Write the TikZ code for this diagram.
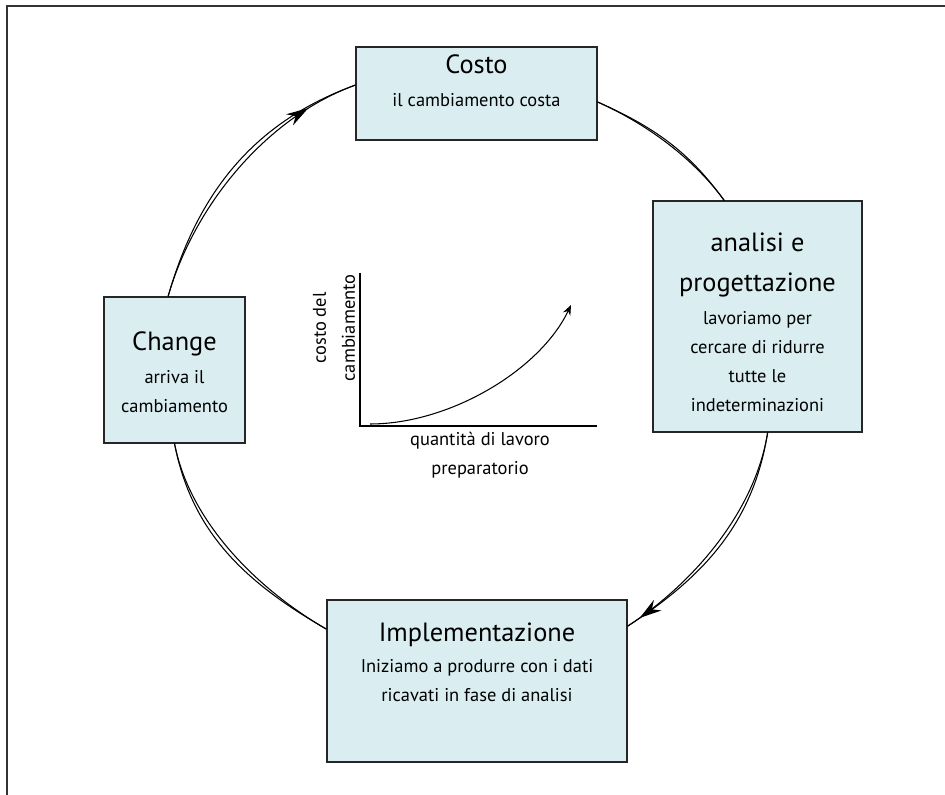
\documentclass[tikz,border=0pt]{standalone}
\usepackage{fontspec}
\setmainfont{PT Sans}
\usetikzlibrary{positioning,arrows.meta,decorations.markings}
\definecolor{cardfill}{RGB}{218,238,242}
\newcommand{\cardtitle}{\fontsize{15}{20}\selectfont}
\newcommand{\cardbody}{\fontsize{10.5}{16.5}\selectfont}

\begin{document}
\begin{tikzpicture}[
	card/.style={draw=black!85, line width=0.6pt, fill=cardfill, inner sep=0pt},
	cardtext/.style={align=center, inner sep=0pt, font=\cardbody},
	loopline/.style={line width=0.6pt},
	axisline/.style={line width=0.8pt},
	frameline/.style={line width=1.2pt, black!80},
	tipat/.style={postaction={decorate}, decoration={markings, mark=at position #1 with {\arrow{Stealth[length=4.4mm,width=2.6mm]}}}}
	]
	\useasboundingbox (0,0) rectangle (18.9,15.9);
	\draw[frameline] (0.14,0) -- (0.14,15.78) -- (18.9,15.78);

	\node[card, minimum width=4.82cm, minimum height=1.86cm] (costo) at (9.53,14.03) {};
	\node[card, minimum width=4.18cm, minimum height=4.62cm] (analisi) at (15.15,9.57) {};
	\node[card, minimum width=2.82cm, minimum height=2.92cm] (change) at (3.49,8.5) {};
	\node[card, minimum width=6cm, minimum height=3.24cm] (impl) at (9.54,2.28) {};

	\node[cardtext, below=0.16cm of costo.north] (costo-t) {{\cardtitle Costo}\\[2.2pt] il cambiamento costa};
	\node[cardtext, below=0.64cm of analisi.north] (analisi-t) {{\cardtitle analisi e}\\[6.2pt]{\cardtitle progettazione}\\[2.2pt] lavoriamo per\\ cercare di ridurre\\ tutte le\\ indeterminazioni};
	\node[cardtext, below=0.70cm of change.north] (change-t) {{\cardtitle Change}\\[2.2pt] arriva il\\ cambiamento};
	\node[cardtext, below=0.46cm of impl.north] (impl-t) {{\cardtitle Implementazione}\\[1pt] Iniziamo a produrre con i dati\\ ricavati in fase di analisi};

	\draw[loopline, tipat=0.82] (change.95) to[out=74, in=200, looseness=0.86] (costo.176);
	\draw[loopline] (change.95) to[out=74, in=200, looseness=0.98] (costo.176);
	\draw[loopline] (costo.-4) to[out=-24, in=126, looseness=0.84] (analisi.106);
	\draw[loopline] (costo.-4) to[out=-24, in=126, looseness=0.98] (analisi.106);
	\draw[loopline, tipat=0.94] (analisi.-85) to[out=-99, in=33, looseness=0.85] (impl.20);
	\draw[loopline] (analisi.-85) to[out=-99, in=33, looseness=0.98] (impl.20);
	\draw[loopline] (impl.161) to[out=150, in=-79, looseness=0.85] (change.south);
	\draw[loopline] (impl.161) to[out=150, in=-79, looseness=0.98] (change.south);

	\coordinate (ytop) at (7.2,10.44);
	\coordinate (o) at (7.2,7.38);
	\coordinate (xend) at (11.94,7.38);
	\draw[axisline] (ytop) -- (o) -- (xend);
	\draw[loopline, -{Stealth[length=2mm,width=1.6mm]}] (7.4,7.42) .. controls (9.0,7.42) and (10.8,8.5) .. (11.42,9.8);
	\node[cardtext, rotate=90] (ylab) at (6.68,9.34) {costo del\\ cambiamento};
	\node[cardtext, anchor=north] (xlab) at (9.6,7.26) {quantità di lavoro\\ preparatorio};
\end{tikzpicture}
\end{document}
